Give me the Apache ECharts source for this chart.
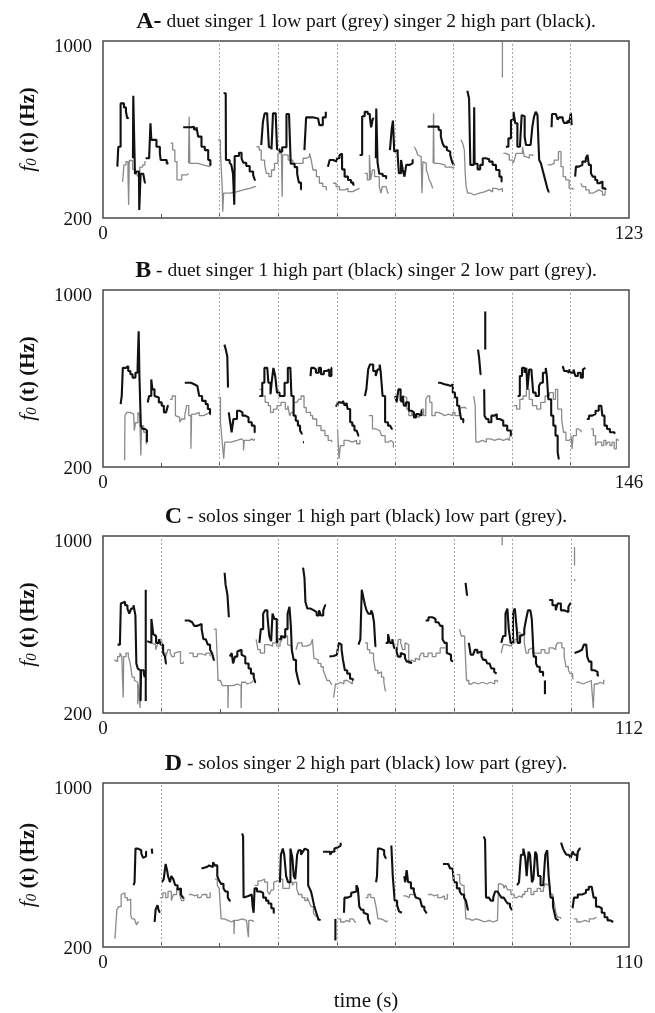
<!DOCTYPE html>
<html>
<head>
<meta charset="utf-8">
<script src="https://cdn.jsdelivr.net/npm/echarts@6/dist/echarts.min.js"></script>
<style>
html,body{margin:0;padding:0;background:#fff;}
#chart{width:655px;height:1013px;}
</style>
</head>
<body>
<div id="chart"></div>
<script>
// ---------- DATA ----------
const durations = [123, 146, 112, 110];
const titleLetters = ['A-', 'B', 'C', 'D'];
const titleTexts = [
  ' duet singer 1 low part (grey) singer 2 high part (black).',
  ' - duet singer 1 high part (black) singer 2 low part (grey).',
  ' - solos singer 1 high part (black) low part (grey).',
  ' - solos singer 2 high part (black) low part (grey).'
];
const yTickLabels = [200, 1000];
const xAxisTitle = 'time (s)';

const sectionLinesA = [27.3, 41.0, 54.7, 68.3, 82.0, 95.7, 109.3];
const sectionLinesB = [32.4, 48.7, 64.9, 81.1, 97.3, 113.6, 129.8];
const sectionLinesC = [12.4, 37.3, 49.8, 62.2, 74.7, 87.1, 99.6];
const sectionLinesD = [12.2, 36.7, 48.9, 61.1, 73.3, 85.6, 97.8];

const tickSecondsA = [13.7, 27.3, 41.0, 54.7, 68.3, 82.0, 95.7, 109.3];
const tickSecondsB = [16.2, 32.4, 48.7, 64.9, 81.1, 97.3, 113.6, 129.8];
const tickSecondsC = [12.4, 24.9, 37.3, 49.8, 62.2, 74.7, 87.1, 99.6];
const tickSecondsD = [12.2, 24.4, 36.7, 48.9, 61.1, 73.3, 85.6, 97.8];

// f0 traces: [time s, Hz] segments
const blackA = [
 [[3.35,432],[3.58,522],[4.12,718],[4.9,700],[5.37,680],[5.68,650],[6.0,655]],
 [[7.0,470],[7.08,752],[7.3,752],[7.47,400],[7.86,410],[8.4,405],[8.48,236],[8.6,236],[8.79,400],[9.41,395],[9.8,360],[10.0,360]],
 [[9.96,470],[10.8,480],[11.1,628],[11.3,553],[12.0,553],[12.5,522],[13.3,492],[13.5,462],[14.4,462],[14.9,447],[15.3,447]],
 [[18.75,610],[20.5,612],[21.3,600],[21.86,610],[22.25,568],[23.03,522],[23.8,507],[24.6,462],[25.1,440],[25.3,440]],
 [[28.2,764],[28.7,764],[28.75,462],[29.6,450],[30.0,440],[30.4,400],[30.7,260],[30.8,480],[31.8,495],[32.4,470],[32.8,450],[33.5,435],[34.3,410],[35.1,395],[35.5,372],[35.7,372]],
 [[37.0,530],[37.4,635],[37.8,673],[38.4,660],[38.8,520],[39.4,510],[39.75,673],[40.4,660],[40.7,510],[41.3,500],[41.9,520],[42.9,670],[43.5,665],[43.9,445],[44.8,430],[45.4,400],[45.8,360],[46.3,330],[46.5,330]],
 [[47.1,507],[47.5,655],[49.0,650],[50.3,650],[50.6,620],[51.4,655],[52.1,680],[52.2,680]],
 [[52.6,432],[53.0,462],[53.8,455],[54.7,470],[55.3,485],[55.7,490],[55.9,420],[56.5,387],[57.3,372],[58.0,360],[58.5,350],[58.8,350]],
 [[60.0,485],[60.6,660],[61.2,680],[61.9,670],[62.4,655],[62.7,610],[63.1,650],[63.4,650]],
 [[63.8,470],[63.9,695],[64.1,695],[64.2,450],[64.6,400],[65.4,390],[66.2,380],[66.4,380]],
 [[67.1,507],[67.5,600],[67.8,640],[68.1,500],[68.5,507],[68.9,485],[69.2,402],[69.7,462],[70.1,417],[70.5,387],[70.9,440],[71.7,447],[72.4,462],[72.6,462]],
 [[75.9,613],[77.5,613],[78.5,598],[79.0,568],[79.4,538],[79.8,522],[80.4,507],[80.8,500],[81.2,485],[81.6,455],[82.0,440],[82.2,440]],
 [[85.2,775],[85.6,740],[85.9,440],[86.7,450],[86.8,700],[86.9,445],[87.6,420],[88.2,440],[88.8,470],[89.5,465],[90.3,455],[91.1,440],[91.9,417],[92.7,387],[93.2,365],[93.4,365]],
 [[94.2,522],[94.8,560],[95.4,643],[96.0,680],[96.4,628],[96.9,522],[97.5,522],[97.9,665],[98.3,660],[98.6,568],[98.9,530],[100.0,522],[100.4,613],[100.8,658],[101.2,680],[101.6,665],[101.8,553],[102.0,462],[102.4,447],[102.8,417],[103.2,387],[103.6,357],[103.9,334],[104.2,319],[104.4,319]],
 [[104.9,610],[105.0,670],[105.9,670],[106.3,645],[106.7,655],[107.5,645],[107.8,630],[108.6,640],[109.0,630],[109.4,675],[109.6,620],[109.7,620]],
 [[110.4,387],[110.6,432],[111.3,440],[112.1,455],[112.9,470],[113.3,485],[113.6,440],[114.1,402],[114.5,387],[115.1,372],[115.6,357],[116.1,365],[116.8,334],[117.4,327],[117.6,327]]
];
const greyA = [
 [[4.59,364],[4.9,440],[5.37,455],[5.84,400],[6.0,259],[6.15,460],[6.92,420],[7.47,400],[8.0,390],[8.6,430],[9.26,440],[9.8,455],[10.0,455]],
 [[15.8,538],[16.3,507],[16.8,455],[17.3,372],[18.4,395],[19.7,402],[20.0,402]],
 [[20.0,447],[20.15,658],[20.3,447],[22.2,440],[23.4,432],[24.9,440],[25.3,447]],
 [[26.9,553],[27.45,507],[27.9,327],[28.0,228],[28.2,312],[29.6,318],[31.2,327],[32.8,334],[34.3,342],[35.5,342],[35.8,342]],
 [[35.9,522],[36.5,507],[37.0,462],[37.8,440],[38.2,402],[38.8,387],[39.4,417],[40.1,447],[40.9,492],[41.7,507],[41.9,296],[42.0,485],[43.3,462],[44.4,447],[46.0,447],[46.8,470],[47.5,477],[48.3,492],[48.7,462],[49.1,417],[49.9,387],[50.6,357],[51.4,342],[52.2,327],[52.4,327]],
 [[53.8,357],[54.5,342],[55.3,327],[56.5,334],[57.3,319],[58.4,327],[59.2,334],[60.0,334]],
 [[61.2,402],[61.8,372],[62.3,485],[62.6,372],[63.0,417],[63.5,387],[64.6,342],[65.0,312],[65.3,342],[66.2,334],[66.6,312],[66.8,312]],
 [[72.8,522],[73.2,507],[73.6,485],[74.0,477],[74.4,460],[74.6,312],[74.8,455],[75.2,447],[75.6,417],[75.9,402],[76.3,372],[76.7,357],[77.1,334],[77.2,334]],
 [[77.2,447],[77.3,673],[77.4,447],[78.5,440],[80.0,430],[81.4,425],[82.0,432]],
 [[83.7,553],[84.1,538],[84.5,507],[84.7,402],[84.9,342],[85.3,312],[86.0,304],[86.8,312],[88.0,318],[89.2,327],[90.3,318],[91.1,334],[91.9,327],[92.7,334],[93.4,318]],
 [[93.4,995],[93.4,835]],
 [[93.6,492],[94.2,485],[95.0,462],[95.8,447],[96.2,462],[96.6,492],[97.4,492],[98.1,522],[98.5,477],[99.0,470],[99.7,485],[100.5,480]],
 [[104.0,440],[104.7,447],[105.5,462],[106.5,500],[107.1,432],[107.6,387],[108.2,372],[109.0,334],[109.8,327],[110.0,327]],
 [[111.7,357],[112.1,342],[112.9,327],[113.7,312],[114.5,319],[115.2,327],[116.0,319],[116.8,304],[117.4,319],[117.6,319]]
];

const blackB = [
 [[4.9,484],[5.2,521],[5.5,648],[6.4,656],[7.0,634],[7.6,619],[8.2,604],[9.0,626],[9.6,648],[9.9,813],[10.1,619],[10.5,387],[11.0,372],[11.6,365],[12.2,312],[12.3,312]],
 [[12.4,492],[12.8,521],[13.4,596],[13.7,551],[14.3,521],[14.8,514],[15.5,492],[16.3,477],[16.9,447],[17.5,454],[18.0,477],[18.2,477]],
 [[22.7,581],[24.4,574],[25.3,566],[26.2,570],[26.7,521],[27.5,499],[28.5,484],[29.1,462],[29.7,439],[29.9,439]],
 [[33.7,753],[34.1,730],[34.5,700],[34.7,559],[34.8,559]],
 [[34.9,447],[35.3,402],[35.7,357],[36.2,417],[37.2,454],[38.0,447],[38.7,432],[39.5,424],[40.4,402],[41.3,387],[42.1,357],[42.3,357]],
 [[43.4,521],[44.2,581],[44.8,648],[45.6,641],[45.9,581],[46.5,529],[46.8,581],[47.3,648],[47.8,611],[48.3,536],[49.0,521],[49.7,521],[50.4,581],[51.3,648],[52.0,641],[52.3,521],[52.9,432],[53.5,409],[54.1,387],[54.7,365],[55.2,350],[55.4,350]],
 [[55.5,312],[55.8,312]],
 [[57.6,611],[57.8,648],[58.5,641],[59.1,626],[59.9,648],[60.5,619],[61.3,634],[62.2,641],[62.8,611],[63.4,648],[63.6,648]],
 [[64.5,477],[65.1,492],[65.9,489],[66.6,499],[67.1,477],[67.6,489],[67.9,462],[68.6,402],[69.2,387],[69.8,365],[70.4,357],[70.9,342],[71.1,342]],
 [[72.7,521],[73.1,551],[73.6,641],[74.1,663],[75.0,634],[75.7,611],[76.2,641],[76.8,663],[77.1,626],[77.6,521],[78.3,402],[79.1,387],[79.7,379],[80.2,372],[80.4,372]],
 [[81.1,521],[81.5,492],[82.0,551],[82.6,499],[83.2,521],[83.5,477],[84.1,492],[84.9,454],[85.7,447],[86.3,424],[86.9,439],[87.6,432],[88.4,454],[88.6,454]],
 [[93.0,581],[93.6,574],[94.8,570],[95.9,566],[96.5,574],[97.1,536],[97.7,514],[98.3,477],[98.9,462],[99.4,417],[100.0,402],[100.2,402]],
 [[104.1,731],[104.4,693],[104.8,619],[105.0,619]],
 [[106.1,903],[106.1,731]],
 [[105.8,551],[105.9,432],[106.4,417],[107.0,402],[107.8,432],[108.7,439],[109.3,417],[110.1,409],[111.1,387],[112.2,365],[113.2,342],[113.4,342]],
 [[115.1,521],[115.7,611],[116.3,648],[117.0,626],[117.5,648],[117.8,551],[118.3,641],[118.9,634],[119.4,536],[120.1,521],[121.0,566],[121.5,581],[122.1,626],[122.9,648],[123.2,611],[123.6,506],[124.4,432],[125.0,387],[125.6,342],[126.2,267],[126.5,237],[126.7,237]],
 [[127.6,656],[128.0,634],[128.7,626],[129.4,641],[129.9,626],[130.6,641],[131.1,611],[131.8,626],[132.6,604],[133.2,641],[133.7,648],[133.9,648]],
 [[134.3,417],[134.9,432],[135.7,439],[136.7,454],[137.6,477],[138.3,469],[138.6,432],[139.2,387],[139.9,372],[140.7,357],[141.9,350],[142.1,350]]
];
const greyB = [
 [[6.0,230],[6.1,432],[6.6,447],[7.5,439],[8.5,432],[8.7,364],[9.0,400],[9.7,447],[10.2,432],[10.5,252],[10.7,387],[11.3,357],[12.0,305],[12.2,305]],
 [[18.6,506],[19.2,521],[20.1,432],[20.6,424],[21.3,402],[21.8,417],[22.7,432],[23.2,477],[23.8,432],[24.4,282],[24.6,439],[25.6,447],[26.7,432],[27.9,439],[28.7,447],[29.7,439],[29.9,439]],
 [[32.0,514],[32.6,402],[33.1,312],[33.5,237],[33.8,312],[35.5,320],[37.2,327],[38.4,320],[39.0,275],[39.2,320],[40.7,327],[41.3,320],[41.9,327],[42.1,327]],
 [[43.4,551],[44.2,521],[45.0,492],[45.9,477],[46.5,447],[47.3,462],[48.3,477],[49.4,492],[50.6,462],[51.3,477],[51.8,432],[52.3,447],[52.9,492],[53.8,499],[54.3,506],[55.0,521],[55.8,469],[56.4,447],[57.6,432],[58.2,417],[59.3,387],[60.5,365],[61.6,342],[62.5,320],[63.4,312],[63.6,312]],
 [[65.1,372],[65.5,237],[65.9,297],[66.9,320],[68.0,312],[69.2,320],[70.4,305],[71.3,320],[71.5,320]],
 [[73.8,432],[74.8,372],[75.6,365],[76.8,357],[77.3,342],[78.3,312],[79.1,320],[79.9,312],[80.6,290],[80.8,290]],
 [[82.6,492],[83.2,521],[83.7,514],[84.3,462],[84.9,432],[85.7,447],[86.1,432],[86.7,424],[87.8,439],[88.4,462],[89.0,432],[89.6,506],[90.1,521],[90.7,492],[91.3,432],[92.2,447],[93.0,439],[94.2,432],[94.8,439],[95.9,432],[97.1,447],[97.7,432],[98.9,447],[99.4,469],[100.6,462],[100.8,462]],
 [[102.9,521],[103.3,477],[103.5,312],[104.1,320],[105.3,312],[106.4,327],[107.6,320],[108.7,327],[109.9,320],[111.1,327],[112.2,320],[112.8,335],[113.0,335]],
 [[114.0,477],[114.8,462],[115.7,506],[116.6,521],[117.5,551],[118.3,506],[119.2,477],[120.4,462],[121.5,492],[122.7,521],[123.9,536],[125.0,506],[125.6,551],[126.2,462],[127.3,417],[127.8,357],[128.5,320],[129.3,327],[129.9,342],[130.2,282],[130.5,342],[130.8,342],[131.4,372],[132.0,365],[132.6,357],[132.8,357]],
 [[135.5,372],[136.1,342],[136.7,297],[137.2,312],[138.4,297],[139.0,320],[139.6,297],[140.1,312],[140.7,297],[141.3,312],[141.9,282],[142.5,327],[143.0,320],[143.2,320]]
];

const blackC = [
 [[3.1,509],[3.6,517],[3.8,695],[4.2,703],[4.7,687],[5.2,672],[5.6,649],[6.0,672],[6.5,687],[6.7,695],[6.9,641],[7.1,424],[7.4,401],[7.8,393],[8.0,254],[8.1,393],[8.7,378],[8.9,362],[9.0,362]],
 [[9.1,757],[9.1,254]],
 [[9.4,525],[9.8,517],[10.3,625],[10.7,556],[11.0,548],[11.3,517],[11.9,533],[12.3,509],[12.8,471],[13.2,455],[13.4,424],[13.6,424]],
 [[17.4,618],[18.3,610],[19.0,610],[19.4,594],[20.1,587],[20.5,602],[21.0,579],[21.4,533],[21.9,525],[22.3,509],[22.8,486],[23.2,471],[23.6,440],[23.8,440]],
 [[25.9,834],[26.1,780],[26.5,734],[26.8,633],[26.9,633]],
 [[27.0,455],[27.4,471],[27.7,424],[28.1,455],[28.6,478],[29.0,486],[29.5,463],[29.9,455],[30.3,424],[31.0,401],[31.5,378],[32.1,362],[32.4,339],[32.6,339]],
 [[33.3,517],[33.6,579],[34.1,649],[34.5,664],[35.0,641],[35.4,548],[35.8,525],[36.1,649],[36.5,625],[37.0,517],[37.4,533],[37.9,548],[38.3,540],[38.8,579],[39.3,649],[39.7,680],[40.0,594],[40.2,486],[40.6,440],[41.1,393],[41.5,355],[41.8,331],[42.0,331]],
 [[42.6,857],[42.9,811],[43.1,703],[43.5,672],[44.2,664],[44.9,656],[45.5,641],[46.0,664],[46.4,641],[46.9,664],[47.3,687],[47.5,687]],
 [[48.2,455],[48.6,458],[49.1,463],[49.8,463],[50.2,517],[50.6,509],[50.8,486],[51.1,440],[51.5,393],[52.0,378],[52.6,355],[53.1,347],[53.3,347]],
 [[54.4,509],[54.8,533],[55.1,757],[55.4,726],[55.8,687],[56.1,664],[56.5,649],[57.1,664],[57.4,649],[57.7,610],[58.0,502],[58.2,502]],
 [[60.2,517],[60.7,556],[61.1,517],[61.6,533],[62.0,494],[62.5,478],[62.8,455],[63.4,471],[63.8,463],[64.3,448],[64.7,432],[65.2,440],[65.6,424],[65.8,424]],
 [[68.7,618],[69.3,633],[70.1,625],[70.8,610],[71.4,618],[71.8,594],[72.3,533],[72.7,517],[73.2,471],[73.6,463],[74.1,440],[74.3,432],[74.5,432]],
 [[77.2,788],[77.5,734],[77.7,734]],
 [[77.9,517],[78.3,463],[78.8,455],[79.2,486],[79.7,471],[80.0,478],[80.6,455],[81.0,440],[81.5,448],[81.8,424],[82.3,417],[82.7,401],[83.3,386],[83.6,378],[83.8,378]],
 [[84.8,517],[85.2,548],[85.7,649],[86.1,672],[86.4,579],[86.8,517],[87.3,656],[87.7,672],[88.1,579],[88.3,517],[88.8,548],[89.2,556],[89.7,579],[90.1,625],[90.5,664],[91.0,672],[91.3,625],[91.7,455],[92.2,424],[92.5,409],[93.0,386],[93.7,370],[93.9,370]],
 [[94.1,347],[94.1,285]],
 [[95.0,711],[95.7,687],[96.4,664],[96.8,695],[97.5,664],[98.2,672],[98.6,656],[99.1,680],[99.5,695],[99.7,695]],
 [[100.4,471],[100.8,478],[101.3,486],[102.0,478],[102.4,509],[102.9,517],[103.1,455],[103.5,432],[104.0,393],[104.7,386],[105.3,370],[105.6,370]]
];
const greyC = [
 [[2.4,440],[2.7,432],[3.1,455],[3.6,471],[4.0,455],[4.3,270],[4.4,455],[4.9,471],[5.4,455],[5.8,424],[6.2,362],[6.7,347],[7.1,339],[7.4,239],[7.5,331],[7.9,223],[8.0,331],[8.3,331]],
 [[10.3,517],[10.7,509],[11.2,486],[11.6,509],[12.0,533],[12.5,517],[12.9,471],[13.4,455],[13.8,486],[14.3,471],[14.7,455],[15.2,471],[15.6,478],[16.5,424],[17.0,432],[17.2,432]],
 [[18.3,471],[19.2,455],[20.1,467],[21.0,461],[21.9,471],[22.8,458],[23.0,458]],
 [[23.6,579],[24.1,564],[24.5,347],[25.0,339],[25.4,324],[25.9,331],[26.3,324],[26.6,223],[26.7,324],[27.7,331],[28.6,339],[29.0,324],[29.4,223],[29.5,339],[30.3,331],[30.8,339],[31.7,347],[31.9,347]],
 [[32.6,533],[33.0,486],[33.5,471],[34.4,509],[35.2,517],[35.6,502],[36.1,517],[37.0,502],[37.7,517],[38.1,533],[38.4,548],[39.3,509],[39.7,502],[40.2,471],[40.4,471]],
 [[41.1,486],[41.5,517],[42.4,502],[43.3,509],[44.2,517],[44.6,533],[44.9,448],[45.3,440],[45.8,424],[46.4,409],[46.9,393],[47.3,370],[47.7,347],[48.2,339],[48.6,331],[48.8,331]],
 [[49.1,270],[49.5,331],[50.0,339],[50.6,331],[51.3,347],[52.0,339],[52.6,331],[53.1,347],[53.3,347]],
 [[55.8,517],[56.3,486],[56.8,471],[57.6,440],[58.0,393],[58.5,378],[58.9,386],[59.3,362],[59.8,339],[60.1,301],[60.3,301]],
 [[62.5,471],[62.9,533],[63.4,517],[63.8,486],[64.3,517],[64.7,509],[65.1,424],[65.6,440],[66.0,432],[66.5,448],[66.9,440],[67.4,455],[67.8,471],[68.3,455],[69.2,471],[70.1,455],[70.9,471],[71.8,494],[72.3,486],[72.7,494],[72.9,494]],
 [[75.9,579],[76.3,548],[77.0,533],[77.4,347],[77.9,331],[78.5,339],[79.0,331],[79.9,339],[80.8,331],[81.7,339],[82.5,331],[83.4,347],[83.9,339],[84.1,339]],
 [[84.8,471],[85.2,509],[85.7,517],[86.1,502],[87.0,517],[87.7,533],[88.3,564],[88.8,533],[89.2,556],[89.7,517],[90.1,471],[90.6,486],[91.0,494],[91.5,471],[92.4,471],[93.3,486],[94.1,471],[95.0,494],[95.8,486],[96.4,502],[96.8,517],[97.7,494],[98.2,455],[98.6,409],[99.1,393],[99.5,378],[100.0,355],[100.2,355]],
 [[100.8,339],[101.3,331],[102.2,339],[103.1,331],[103.5,347],[104.0,331],[104.4,223],[104.6,331],[105.3,339],[105.9,331],[106.6,347],[106.8,347]],
 [[85.0,998],[85.0,958]],
 [[100.4,950],[100.4,865]],
 [[100.4,805],[100.5,796]]
];

const blackD = [
 [[6.4,501],[6.6,516],[6.8,680],[7.3,687],[7.7,672],[8.0,657],[8.4,635],[8.7,642],[9.0,665],[9.2,665]],
 [[10.2,680],[10.3,655]],
 [[10.8,322],[11.0,382],[11.4,404],[11.6,382],[11.9,367],[12.0,367]],
 [[12.3,516],[12.7,531],[13.1,605],[13.4,575],[13.6,546],[14.0,516],[14.3,546],[14.7,531],[15.1,501],[15.6,479],[16.0,486],[16.3,456],[16.7,441],[16.9,441]],
 [[20.6,583],[21.0,590],[21.7,598],[22.2,592],[22.6,590],[23.0,613],[23.4,598],[23.9,546],[24.3,523],[24.7,508],[25.2,486],[25.6,471],[26.1,441],[26.5,426],[26.7,426]],
 [[29.1,754],[29.3,739],[29.4,441],[29.7,449],[30.4,441],[30.8,456],[31.1,456],[31.3,397],[31.5,367],[31.7,486],[32.2,471],[32.9,464],[33.5,441],[34.1,426],[34.6,412],[35.2,389],[35.7,367],[35.9,367]],
 [[37.0,516],[37.2,650],[37.6,680],[37.9,650],[38.3,546],[38.7,516],[39.2,680],[39.6,635],[39.9,546],[40.2,531],[40.6,650],[40.9,672],[41.4,650],[41.8,665],[42.2,680],[42.6,672],[42.9,501],[43.2,486],[43.5,471],[43.8,441],[44.2,397],[44.6,367],[45.0,337],[45.3,330],[45.5,330]],
 [[46.0,665],[46.6,657],[47.0,665],[47.5,650],[47.9,665],[48.4,680],[48.8,687],[49.2,695],[49.7,709],[49.8,709]],
 [[48.6,337],[48.6,232]],
 [[50.4,367],[50.5,441],[51.2,449],[51.9,464],[52.3,471],[53.0,501],[53.3,486],[53.6,397],[54.0,382],[54.5,367],[54.9,359],[55.4,337],[55.8,315],[56.0,315]],
 [[57.1,516],[57.3,546],[57.5,680],[58.0,687],[58.4,672],[58.8,650],[59.1,635],[59.3,635]],
 [[60.3,695],[60.6,546],[61.0,426],[61.5,404],[61.9,374],[62.3,367],[62.5,367]],
 [[63.0,546],[63.2,516],[63.5,575],[63.8,516],[64.4,486],[65.0,471],[65.4,441],[65.8,434],[66.3,426],[66.7,397],[67.2,382],[67.6,367],[67.8,367]],
 [[71.1,605],[71.7,605],[72.2,598],[72.6,583],[73.1,590],[73.4,516],[74.0,486],[74.6,471],[75.0,456],[75.5,441],[75.9,426],[76.3,382],[76.5,382]],
 [[79.6,739],[79.9,724],[80.1,441],[80.7,434],[81.1,426],[81.6,441],[82.0,471],[82.5,464],[82.9,456],[83.3,441],[83.8,434],[84.2,426],[84.6,412],[85.1,397],[85.5,382],[85.7,382]],
 [[86.6,501],[87.0,516],[87.4,650],[87.9,680],[88.3,635],[88.6,546],[89.0,665],[89.3,650],[89.7,516],[90.0,531],[90.4,665],[90.7,650],[91.0,546],[91.5,501],[92.1,516],[92.5,650],[92.9,672],[93.2,546],[93.6,441],[94.1,397],[94.4,367],[94.7,337],[95.1,330],[95.3,330]],
 [[95.8,709],[96.2,680],[96.5,665],[96.9,650],[97.4,657],[97.8,635],[98.2,665],[98.6,650],[99.1,620],[99.3,665],[99.7,680],[99.9,680]],
 [[98.2,389],[98.5,441],[99.3,456],[100.2,464],[101.0,479],[101.6,494],[102.2,501],[102.6,441],[103.1,397],[103.7,389],[104.3,367],[104.9,345],[105.5,330],[106.1,322],[106.7,322]]
];
const greyD = [
 [[2.5,240],[2.6,277],[2.9,382],[3.3,397],[3.8,456],[4.2,464],[4.6,441],[5.1,426],[5.5,434],[5.8,352],[6.1,337],[6.6,330],[7.0,307],[7.3,322],[7.5,322]],
 [[11.9,441],[12.5,464],[13.1,441],[13.6,471],[14.3,426],[14.7,456],[15.4,486],[16.0,456],[16.4,426],[16.9,441],[17.1,441]],
 [[18.0,456],[18.6,449],[19.2,456],[19.8,441],[20.4,449],[20.8,456],[21.7,441],[22.4,464],[22.6,464]],
 [[23.4,531],[23.9,501],[24.3,486],[24.7,337],[25.4,330],[26.1,337],[26.5,322],[26.9,330],[27.4,263],[27.5,330],[28.2,337],[29.1,330],[30.0,322],[30.4,248],[30.5,330],[30.9,330],[31.3,322],[31.5,322]],
 [[31.7,501],[32.4,523],[33.1,531],[33.8,516],[34.4,471],[34.8,456],[35.2,479],[35.7,516],[36.1,523],[36.5,516],[37.0,531],[37.6,486],[38.3,486],[39.0,516],[39.6,501],[40.0,516],[40.5,486],[40.9,456],[41.6,441],[42.2,426],[42.7,441],[43.1,419],[43.5,397],[44.0,367],[44.4,352],[44.9,330],[45.1,330]],
 [[49.2,337],[49.7,322],[50.4,330],[51.0,322],[51.6,337],[52.3,330],[52.7,322],[52.9,322]],
 [[54.9,441],[55.4,456],[56.0,441],[56.7,449],[57.1,397],[57.5,337],[58.2,330],[58.8,322],[59.3,330],[59.5,330]],
 [[62.8,449],[63.3,441],[64.1,456],[65.0,449],[65.2,449]],
 [[68.0,456],[68.7,449],[69.3,456],[70.0,441],[70.7,449],[71.4,434],[72.0,456],[72.2,456]],
 [[74.0,553],[74.6,516],[75.0,501],[75.5,486],[75.9,337],[76.6,330],[77.2,337],[78.1,330],[79.0,322],[79.8,330],[80.7,322],[81.6,330],[82.5,322],[82.7,508],[83.2,501],[83.8,486],[84.2,501],[84.6,479],[85.3,456],[86.0,441],[86.5,449],[87.1,441],[87.7,456],[88.2,471],[88.8,486],[89.5,456],[90.1,471],[90.8,486],[91.5,471],[92.1,486],[92.5,508],[92.9,501],[93.4,456],[94.1,441],[94.4,412],[94.7,367],[95.1,345],[95.6,337],[95.8,337]],
 [[98.5,337],[99.1,322],[99.9,330],[100.8,322],[101.7,337],[102.6,330],[103.0,345],[103.2,345]]
];

// ---------- CHART ----------
const blackSets = [blackA, blackB, blackC, blackD];
const greySets = [greyA, greyB, greyC, greyD];
const lineSets = [sectionLinesA, sectionLinesB, sectionLinesC, sectionLinesD];
const tickSets = [tickSecondsA, tickSecondsB, tickSecondsC, tickSecondsD];

const FONT = 'Liberation Serif';
const gridTops = [41, 290, 536, 783];
const gridLeft = 103, gridW = 526, gridH = 177;

const grids = [], xAxes = [], yAxes = [], series = [], graphics = [];
for (let i = 0; i < 4; i++) {
  const T = durations[i];
  grids.push({
    left: gridLeft, top: gridTops[i], width: gridW, height: gridH,
    show: true, borderColor: '#4a4a4a', borderWidth: 1.5, backgroundColor: 'transparent'
  });
  xAxes.push({
    type: 'value', gridIndex: i, min: 0, max: T,
    axisLine: { show: false },
    splitLine: { show: false },
    axisTick: { show: true, inside: true, length: 4, customValues: tickSets[i], lineStyle: { color: '#555', width: 1 } },
    axisLabel: { customValues: [0, T], fontFamily: FONT, fontSize: 19, color: '#111', margin: 7 },
    name: i === 3 ? xAxisTitle : '',
    nameLocation: 'middle', nameGap: 44,
    nameTextStyle: { fontFamily: FONT, fontSize: 21, color: '#111' }
  });
  yAxes.push({
    type: 'value', gridIndex: i, min: yTickLabels[0], max: yTickLabels[1], interval: yTickLabels[1] - yTickLabels[0],
    axisLine: { show: false }, axisTick: { show: false }, splitLine: { show: false },
    axisLabel: {
      fontFamily: FONT, fontSize: 19, color: '#111', margin: 11,
      formatter: v => v === yTickLabels[1] ? '{t|' + v + '}' : '{b|' + v + '}',
      rich: {
        t: { fontFamily: FONT, fontSize: 19, color: '#111', padding: [12, 0, 0, 0] },
        b: { fontFamily: FONT, fontSize: 19, color: '#111', padding: [5, 0, 0, 0] }
      }
    },
    name: '{i|f}{s|0}{n| (t) (Hz)}',
    nameLocation: 'middle', nameRotate: 90, nameGap: 63,
    nameTextStyle: {
      rich: {
        i: { fontFamily: FONT, fontSize: 22, fontStyle: 'italic', color: '#111' },
        s: { fontFamily: FONT, fontSize: 15, fontStyle: 'italic', color: '#111', padding: [8, 0, 0, 0] },
        n: { fontFamily: FONT, fontSize: 21, fontWeight: 'bold', color: '#111' }
      }
    }
  });
  // vertical section lines
  series.push({
    type: 'line', xAxisIndex: i, yAxisIndex: i, data: [], silent: true,
    markLine: {
      silent: true, symbol: ['none', 'none'], label: { show: false },
      lineStyle: { color: '#a8a8a8', width: 1, type: [2, 2] },
      data: lineSets[i].map(x => ({ xAxis: x }))
    }
  });
  greySets[i].forEach(seg => series.push({
    type: 'line', xAxisIndex: i, yAxisIndex: i, step: 'end', showSymbol: false, silent: true,
    lineStyle: { color: '#8a8a8a', width: 1.3 }, data: seg
  }));
  blackSets[i].forEach(seg => series.push({
    type: 'line', xAxisIndex: i, yAxisIndex: i, step: 'end', showSymbol: false, silent: true,
    lineStyle: { color: '#111', width: 2.1 }, data: seg
  }));
  graphics.push({
    type: 'text', x: gridLeft + gridW / 2, y: gridTops[i] - 19,
    style: {
      text: '{L|' + titleLetters[i] + '}{n|' + titleTexts[i] + '}',
      align: 'center', verticalAlign: 'middle',
      rich: {
        L: { fontFamily: FONT, fontSize: 24, fontWeight: 'bold', fill: '#111' },
        n: { fontFamily: FONT, fontSize: 19.5, fill: '#111' }
      }
    }
  });
}

const chart = echarts.init(document.getElementById('chart'), null, { renderer: 'canvas' });
chart.setOption({
  animation: false,
  backgroundColor: '#fff',
  grid: grids, xAxis: xAxes, yAxis: yAxes, series: series,
  graphic: graphics
});
</script>
</body>
</html>
